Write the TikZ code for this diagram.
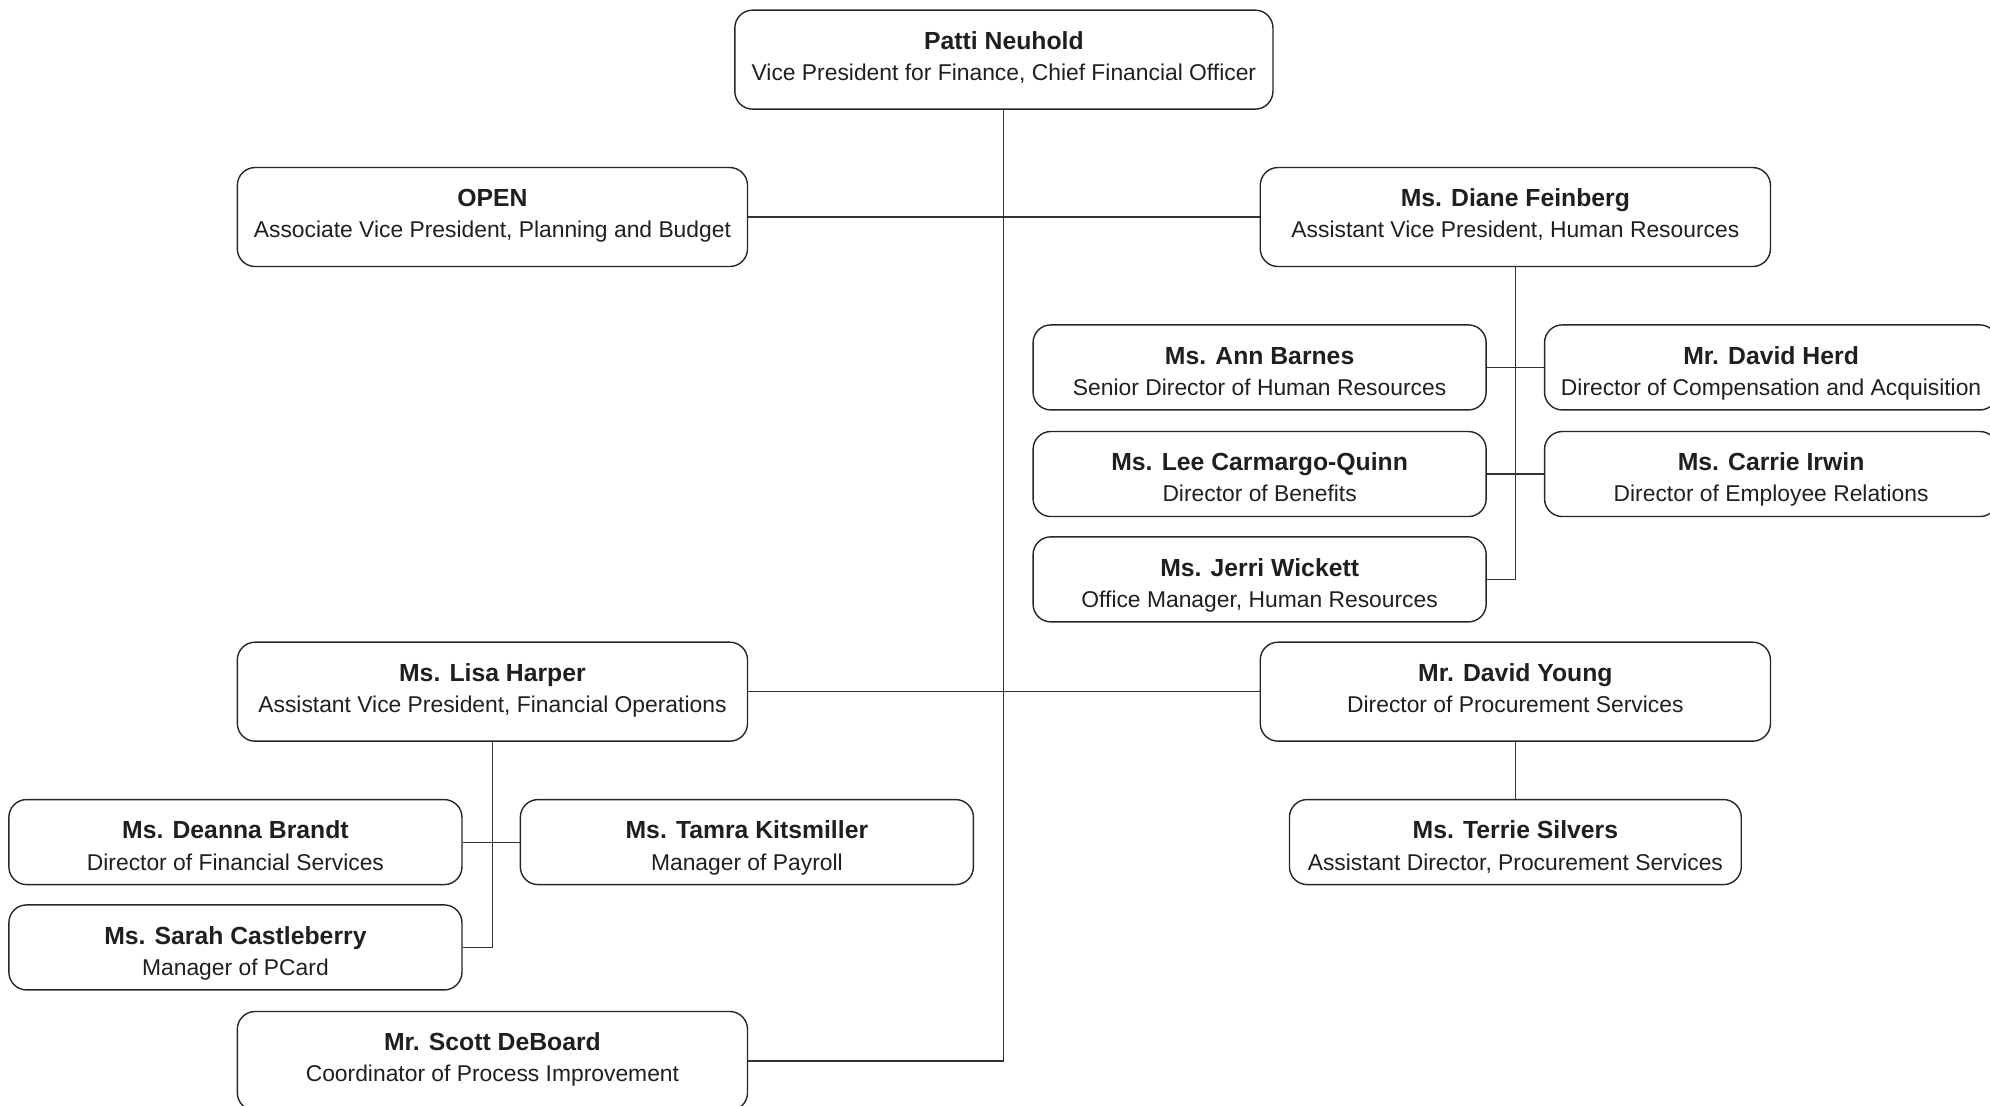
\documentclass[tikz,border=0pt]{standalone}
\usepackage{fontspec}
\setmainfont{Liberation Sans}
\begin{document}
\begin{tikzpicture}[x=1pt,y=-1pt,
  box/.style={draw=black!85, line width=1.1pt, rounded corners=14pt, align=center, inner sep=0pt,
    text=black!88, font=\fontsize{18}{24.5}\selectfont},
  wide/.style={box, minimum width=402pt, minimum height=78pt},
  narrow/.style={box, minimum width=357pt, minimum height=67pt},
  link/.style={draw=black!80, line width=0.9pt}]
\newcommand{\nm}[2]{\rule{0pt}{#1}{\bfseries\fontsize{19.5}{24.5}\selectfont #2}}
\newcommand{\tl}[1]{#1\rule[-7.35pt]{0pt}{0pt}}
\newcommand{\W}{15.85pt}
\newcommand{\N}{26.85pt}
\useasboundingbox (0,0) rectangle (1568,871);
\clip (0,0) rectangle (1568,871);
\node[box, minimum width=424pt, minimum height=78pt] (patti) at (791,47) {\nm{\W}{Patti Neuhold}\\\tl{Vice President for Finance, Chief Financial Officer}};
\node[wide] (open) at (388,171) {\nm{\W}{OPEN}\\\tl{Associate Vice President, Planning and Budget}};
\node[wide] (diane) at (1194,171) {\nm{\W}{Ms. Diane Feinberg}\\\tl{Assistant Vice President, Human Resources}};
\node[narrow] (ann) at (992.5,289.5) {\nm{\N}{Ms. Ann Barnes}\\\tl{Senior Director of Human Resources}};
\node[narrow] (herd) at (1395.5,289.5) {\nm{\N}{Mr. David Herd}\\\tl{Director of Compensation and Acquisition}};
\node[narrow] (lee) at (992.5,373.5) {\nm{\N}{Ms. Lee Carmargo-Quinn}\\\tl{Director of Benefits}};
\node[narrow] (carrie) at (1395.5,373.5) {\nm{\N}{Ms. Carrie Irwin}\\\tl{Director of Employee Relations}};
\node[narrow] (jerri) at (992.5,456.5) {\nm{\N}{Ms. Jerri Wickett}\\\tl{Office Manager, Human Resources}};
\node[wide] (lisa) at (388,545) {\nm{\W}{Ms. Lisa Harper}\\\tl{Assistant Vice President, Financial Operations}};
\node[wide] (young) at (1194,545) {\nm{\W}{Mr. David Young}\\\tl{Director of Procurement Services}};
\node[narrow, minimum width=356pt] (silvers) at (1194,663.5) {\nm{\N}{Ms. Terrie Silvers}\\\tl{Assistant Director, Procurement Services}};
\node[narrow] (deanna) at (185.5,663.5) {\nm{\N}{Ms. Deanna Brandt}\\\tl{Director of Financial Services}};
\node[narrow] (tamra) at (588.5,663.5) {\nm{\N}{Ms. Tamra Kitsmiller}\\\tl{Manager of Payroll}};
\node[narrow] (sarah) at (185.5,746.5) {\nm{\N}{Ms. Sarah Castleberry}\\\tl{Manager of PCard}};
\node[wide] (scott) at (388,836) {\nm{\W}{Mr. Scott DeBoard}\\\tl{Coordinator of Process Improvement}};
% connectors
\draw[link] (patti.south) |- (scott.east);
\draw[link] (open.east) -- (diane.west);
\draw[link] (lisa.east) -- (young.west);
\draw[link] (jerri.east) -| (diane.south);
\draw[link] (ann.east) -- (herd.west);
\draw[link] (lee.east) -- (carrie.west);
\draw[link] (young.south) -- (silvers.north);
\draw[link] (sarah.east) -| (lisa.south);
\draw[link] (deanna.east) -- (tamra.west);
\end{tikzpicture}
\end{document}
